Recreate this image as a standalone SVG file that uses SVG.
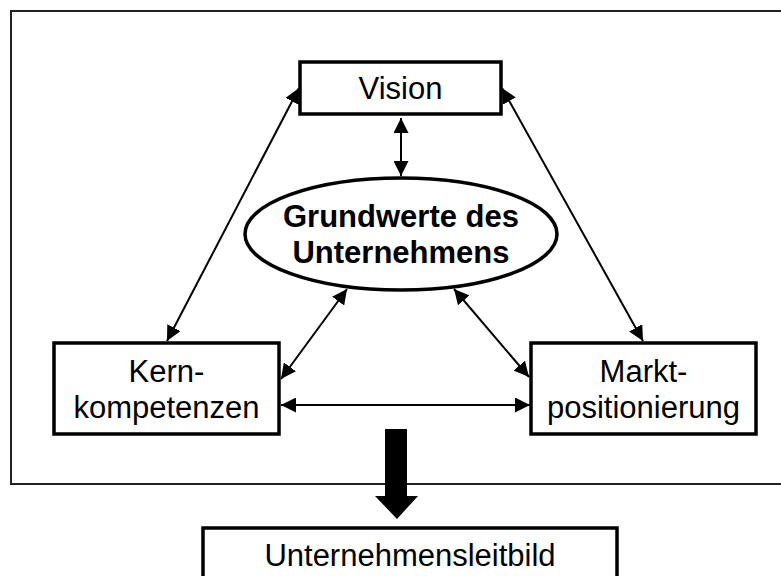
<svg xmlns="http://www.w3.org/2000/svg" width="781" height="576" viewBox="0 0 781 576">
<style>
.box{fill:#fff;stroke:#000;stroke-width:3.5}
.t{font-family:"Liberation Sans",Arial,sans-serif;font-size:31px;fill:#000;text-anchor:middle}
.b{font-weight:bold}
.c{stroke:#000;stroke-width:2;fill:none;marker-start:url(#a);marker-end:url(#a)}
</style>
<defs>
<marker id="a" viewBox="0 0 10 10" refX="10" refY="5" markerWidth="15" markerHeight="15" markerUnits="userSpaceOnUse" orient="auto-start-reverse">
<path d="M0,0 L10,5 L0,10 z" fill="#000"/>
</marker>
</defs>
<rect id="frame" x="11" y="11" width="790" height="473" fill="none" stroke="#222" stroke-width="2"/>
<g id="connectors">
<line class="c" x1="167" y1="341" x2="299" y2="88"/>
<line class="c" x1="643" y1="341" x2="502" y2="88"/>
<line class="c" x1="401" y1="118" x2="401" y2="176"/>
<line class="c" x1="281" y1="379" x2="347" y2="289"/>
<line class="c" x1="529" y1="377" x2="454" y2="289"/>
<line class="c" x1="281" y1="405" x2="530" y2="405"/>
<path id="bigarrow" d="M385,429 H407 V496 H418 L397,519 L375,496 H385 Z" fill="#000"/>
</g>
<g id="vision">
<rect class="box" x="300" y="62" width="201" height="52"/>
<text class="t" x="400.5" y="99">Vision</text>
</g>
<g id="grundwerte">
<ellipse cx="401" cy="234" rx="156" ry="56" fill="#fff" stroke="#000" stroke-width="3.5"/>
<text class="t b" x="401" y="227">Grundwerte des</text>
<text class="t b" x="401" y="263">Unternehmens</text>
</g>
<g id="kern">
<rect class="box" x="54" y="343" width="225" height="91"/>
<text class="t" x="166.5" y="382">Kern-</text>
<text class="t" x="166.5" y="418">kompetenzen</text>
</g>
<g id="markt">
<rect class="box" x="531" y="343" width="225" height="91"/>
<text class="t" x="643.5" y="382">Markt-</text>
<text class="t" x="643.5" y="418">positionierung</text>
</g>
<g id="leitbild">
<rect class="box" x="203" y="528" width="414" height="70"/>
<text class="t" x="410" y="566">Unternehmensleitbild</text>
</g>
</svg>
